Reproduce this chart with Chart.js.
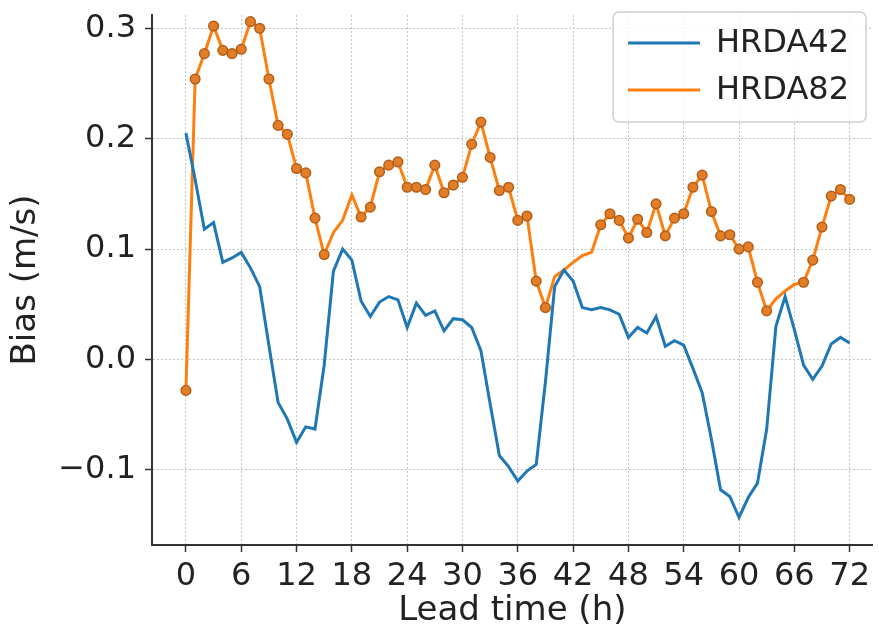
<!DOCTYPE html>
<html>
<head>
<meta charset="utf-8">
<script src="https://cdn.jsdelivr.net/npm/chart.js@4"></script>
<style>
  html, body { margin: 0; padding: 0; background: #fff; }
  canvas { display: block; }
</style>
</head>
<body>
<canvas id="biasChart" width="879" height="633"></canvas>
<script>
const leadHours = [0, 1, 2, 3, 4, 5, 6, 7, 8, 9, 10, 11, 12, 13, 14, 15, 16, 17, 18, 19, 20, 21, 22, 23, 24,
  25, 26, 27, 28, 29, 30, 31, 32, 33, 34, 35, 36, 37, 38, 39, 40, 41, 42, 43, 44, 45, 46, 47, 48,
  49, 50, 51, 52, 53, 54, 55, 56, 57, 58, 59, 60, 61, 62, 63, 64, 65, 66, 67, 68, 69, 70, 71, 72];

const hrda42 = [0.205, 0.163, 0.118, 0.124, 0.088, 0.092, 0.097, 0.083, 0.066, 0.013, -0.039, -0.054, -0.075,
  -0.061, -0.063, -0.005, 0.080, 0.100, 0.090, 0.053, 0.039, 0.052, 0.057, 0.054, 0.029,
  0.051, 0.040, 0.044, 0.026, 0.037, 0.036, 0.029, 0.008, -0.040, -0.087, -0.097, -0.110,
  -0.101, -0.095, -0.020, 0.066, 0.081, 0.071, 0.047, 0.045, 0.047, 0.045, 0.041, 0.020,
  0.029, 0.024, 0.039, 0.012, 0.017, 0.013, -0.008, -0.030, -0.072, -0.118, -0.124, -0.143,
  -0.125, -0.112, -0.063, 0.030, 0.057, 0.027, -0.005, -0.018, -0.006, 0.014, 0.020, 0.015];

const hrda82 = [-0.028, 0.254, 0.277, 0.302, 0.280, 0.277, 0.281, 0.306, 0.300, 0.254, 0.212, 0.204, 0.173,
  0.169, 0.128, 0.095, 0.115, 0.126, 0.149, 0.129, 0.138, 0.170, 0.176, 0.179, 0.156,
  0.156, 0.154, 0.176, 0.151, 0.158, 0.165, 0.195, 0.215, 0.183, 0.153, 0.156, 0.126,
  0.130, 0.071, 0.047, 0.075, 0.081, 0.088, 0.094, 0.097, 0.122, 0.132, 0.126, 0.110,
  0.127, 0.115, 0.141, 0.112, 0.128, 0.132, 0.156, 0.167, 0.134, 0.112, 0.113, 0.100,
  0.102, 0.070, 0.044, 0.055, 0.062, 0.068, 0.070, 0.090, 0.120, 0.148, 0.154, 0.145];

// hours where HRDA82 has no dot
const hrda82NoDot = [16, 17, 18, 40, 41, 42, 43, 44, 64, 65, 66];

const xTicks = [0, 6, 12, 18, 24, 30, 36, 42, 48, 54, 60, 66, 72];
const yTicks = [-0.1, 0.0, 0.1, 0.2, 0.3];

const FONT = { family: 'DejaVu Sans', size: 32 };
const TITLE_FONT = { family: 'DejaVu Sans', size: 34 };
const INK = '#222';

const toPoints = vals => vals.map((v, i) => ({ x: leadHours[i], y: v }));

// keep the plot area exactly where layout.padding puts it
const noEdgePadding = s => {
  s.paddingTop = 0;
  s.paddingBottom = 0;
  s.paddingLeft = 0;
  s.paddingRight = 0;
};

// matplotlib-style framed legend in the upper right
const boxLegend = {
  id: 'boxLegend',
  afterDraw(chart) {
    const ctx = chart.ctx;
    const x0 = 613, y0 = 12, w = 253, h = 110, r = 6;
    ctx.save();
    ctx.beginPath();
    ctx.roundRect(x0, y0, w, h, r);
    ctx.fillStyle = 'rgba(255,255,255,0.85)';
    ctx.fill();
    ctx.strokeStyle = '#d0d0d0';
    ctx.lineWidth = 1.5;
    ctx.stroke();
    ctx.font = `${FONT.size}px ${FONT.family}`;
    ctx.textBaseline = 'middle';
    chart.data.datasets.forEach((ds, i) => {
      const y = y0 + 31 + i * 47;
      ctx.beginPath();
      ctx.moveTo(628, y);
      ctx.lineTo(700, y);
      ctx.strokeStyle = ds.borderColor;
      ctx.lineWidth = 3;
      ctx.stroke();
      ctx.fillStyle = INK;
      ctx.fillText(ds.label, 716, y + 1);
    });
    ctx.restore();
  }
};

const ctx = document.getElementById('biasChart').getContext('2d');
new Chart(ctx, {
  type: 'line',
  data: {
    datasets: [
      {
        label: 'HRDA42',
        data: toPoints(hrda42),
        borderColor: '#1f77b4',
        borderWidth: 3,
        pointRadius: 0,
        tension: 0
      },
      {
        label: 'HRDA82',
        data: toPoints(hrda82),
        borderColor: '#ff7f0e',
        borderWidth: 3,
        pointRadius: leadHours.map(h => hrda82NoDot.includes(h) ? 0 : 4.8),
        pointBackgroundColor: '#e27d28',
        pointBorderColor: '#b35d18',
        pointBorderWidth: 1.5,
        tension: 0
      }
    ]
  },
  options: {
    responsive: false,
    animation: false,
    layout: { padding: { top: 15, right: 0, bottom: 0, left: 0 } },
    plugins: {
      legend: { display: false },
      tooltip: { enabled: false }
    },
    scales: {
      x: {
        type: 'linear',
        min: -3.68,
        max: 74.5,
        afterBuildTicks: s => { s.ticks = xTicks.map(v => ({ value: v })); },
        afterFit: s => { s.height = 88; noEdgePadding(s); },
        grid: { color: '#c4c4c4', lineWidth: 1, tickLength: 7, tickColor: '#333', tickWidth: 1.5 },
        border: { color: '#333', width: 2, dash: [2, 2] },
        ticks: { font: FONT, color: INK, padding: 5, maxRotation: 0, autoSkip: false },
        title: { display: true, text: 'Lead time (h)', font: TITLE_FONT, color: INK, padding: { top: 0, bottom: 1 } }
      },
      y: {
        min: -0.168,
        max: 0.312,
        afterBuildTicks: s => { s.ticks = yTicks.map(v => ({ value: v })); },
        afterFit: s => { s.width = 152; noEdgePadding(s); },
        grid: { color: '#c4c4c4', lineWidth: 1, tickLength: 7, tickColor: '#333', tickWidth: 1.5 },
        border: { color: '#333', width: 2, dash: [2, 2] },
        ticks: {
          font: FONT,
          color: INK,
          padding: 9,
          callback: v => (v < 0 ? '\u2212' + Math.abs(v).toFixed(1) : v.toFixed(1))
        },
        title: { display: true, text: 'Bias (m/s)', font: TITLE_FONT, color: INK, padding: { top: 6, bottom: 0 } }
      }
    }
  },
  plugins: [boxLegend]
});
</script>
</body>
</html>
